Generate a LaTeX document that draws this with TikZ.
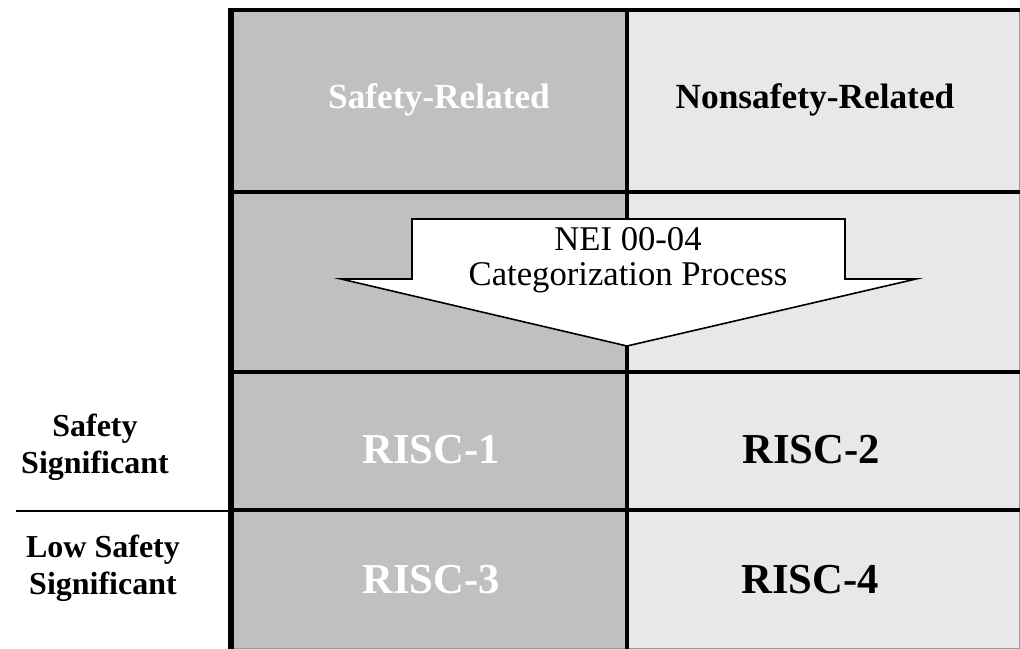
\documentclass[tikz,border=0pt]{standalone}
\usepackage{fontspec}
\setmainfont{Liberation Serif}
\usepackage{tikz}
\usetikzlibrary{positioning}
\definecolor{srFill}{HTML}{C0C0C0}
\definecolor{nsrFill}{HTML}{E8E8E8}
\definecolor{edgeGray}{HTML}{9A9A9A}
\tikzset{
  gridline/.style={line width=3pt, black},
  rowlabel/.style={font=\fontsize{24}{28}\selectfont\bfseries, align=center},
  headtext/.style={font=\fontsize{26.5}{30}\selectfont\bfseries},
  risctext/.style={font=\fontsize{32}{36}\selectfont\bfseries},
  processarrow/.style={draw, fill=white, line width=1.2pt, line join=miter},
  arrowtext/.style={font=\fontsize{26}{26.5}\selectfont, align=center}
}
\begin{document}
\begin{tikzpicture}[x=0.75pt, y=-0.75pt]
  \useasboundingbox (0,0) rectangle (1020,649);
  % column fills
  \fill[srFill] (231,10) rectangle (627,649);
  \fill[nsrFill] (627,10) rectangle (1020,649);
  \draw[edgeGray, line width=1pt] (1019.5,10) -- (1019.5,649);
  \draw[edgeGray, line width=1pt] (231,648.5) -- (1020,648.5);
  % grid lines
  \foreach \y in {192,372,510}{\draw[gridline] (231,\y) -- (1020,\y);}
  \draw[gridline] (228,10) -- (1020,10);
  \draw[gridline] (627,10) -- (627,649);
  \draw[line width=3.8pt] (231,8) -- (231,649);
  \draw[line width=1.1pt] (16,511) -- (231,511);
  % categorization arrow
  \draw[processarrow] (412,219) -- (845,219) -- (845,279) -- (916,279)
    -- (627,346) -- (341,279) -- (412,279) -- cycle;
  \node[arrowtext] (process) at (628,260) {NEI 00-04\\Categorization Process};
  % headers
  \node[headtext, text=white] (sr) at (439,100) {Safety-Related};
  \node[headtext] (nsr) at (815,100) {Nonsafety-Related};
  % categories
  \node[risctext, text=white] (risc1) at (431,450) {RISC-1};
  \node[risctext] (risc2) at (811,450) {RISC-2};
  \node[risctext, text=white] (risc3) at (431,580) {RISC-3};
  \node[risctext] (risc4) at (810,580) {RISC-4};
  % row labels
  \node[rowlabel] (ss) at (95,447) {Safety\\Significant};
  \node[rowlabel] (lss) at (103,568) {Low Safety\\Significant};
\end{tikzpicture}
\end{document}
